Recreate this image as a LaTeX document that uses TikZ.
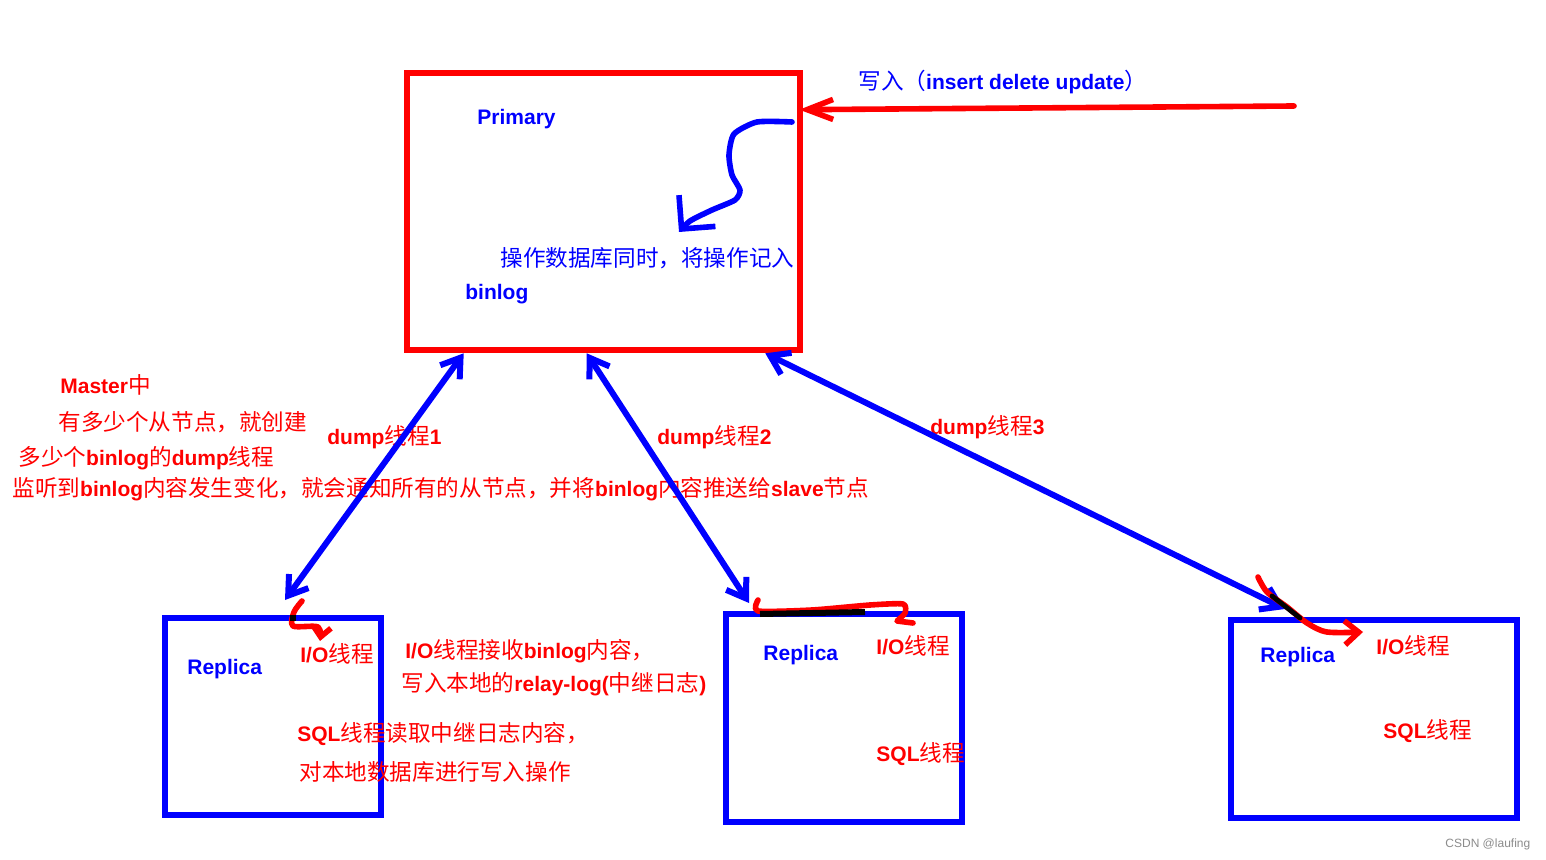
\documentclass[tikz,border=0pt]{standalone}
\usepackage{fontspec}
\setmainfont{Liberation Sans}
\newfontfamily\cjk{Noto Sans CJK SC}
\usetikzlibrary{arrows.meta}
\usetikzlibrary{calc}

\newcommand{\zh}[1]{{\cjk\mdseries\fontsize{11.3}{13}\selectfont #1}}

\tikzset{
  lbl/.style={inner sep=0pt, anchor=west, yshift=-0.8pt, font=\bfseries\fontsize{10.5}{12}\selectfont},
  redlbl/.style={lbl, text=red},
  bluelbl/.style={lbl, text=blue},
  masterbox/.style={draw=red, line width=3.3pt, minimum width=196.5pt, minimum height=138.5pt},
  slavebox/.style={draw=blue, line width=3pt},
  dumpline/.style={blue, line width=3pt, line cap=round,
    {Straight Barb[length=9pt,width=12pt]}-{Straight Barb[length=9pt,width=12pt]}},
  handline/.style={line width=2.8pt, line cap=round, line join=round},
}

\begin{document}
\begin{tikzpicture}[x=0.5pt, y=-0.5pt]
    \useasboundingbox[fill=white] (0,0) rectangle (1546,860);

    % master and the three replicas
    \node (primary) [masterbox] at (603.5,211.5) {};
    \node (r1) [slavebox, minimum width=108pt, minimum height=98.5pt] at (273,716.5) {};
    \node (r2) [slavebox, minimum width=118pt, minimum height=104pt] at (844,718) {};
    \node (r3) [slavebox, minimum width=143pt, minimum height=99pt] at (1374,719) {};

    % texts in the master
    \node (primlbl) [bluelbl] at (477,117) {Primary};
    \node (oplbl) [bluelbl] at (500,257) {\zh{操作数据库同时，将操作记入}};
    \node (binlbl) [bluelbl] at (465,293) {binlog};
    \node (writelbl) [bluelbl] at (858,80) {\zh{写入（}insert delete update\zh{）}};

    % notes on the left
    \node (note1) [redlbl] at (60,383) {Master\zh{中}};
    \node (note2) [redlbl] at (58,421) {\zh{有多少个从节点，就创建}};
    \node (note3) [redlbl] at (18,457) {\zh{多少个}binlog\zh{的}dump\zh{线程}};
    \node (note4) [redlbl] at (12,488) {\zh{监听到}binlog\zh{内容发生变化，就会通知所有的从节点，并将}binlog\zh{内容推送给}slave\zh{节点}};

    \node (dump1) [redlbl] at (327,436) {dump\zh{线程}1};
    \node (dump2) [redlbl] at (657,436) {dump\zh{线程}2};
    \node (dump3) [redlbl] at (930,426) {dump\zh{线程}3};

    % texts in the replicas
    \node (rep1) [bluelbl] at (187,667) {Replica};
    \node (rep2) [bluelbl] at (763,653) {Replica};
    \node (rep3) [bluelbl] at (1260,655) {Replica};
    \node (io1) [redlbl] at (300,652) {I/O\zh{线程}};
    \node (io2) [redlbl] at (876,644) {I/O\zh{线程}};
    \node (io3) [redlbl] at (1376,644) {I/O\zh{线程}};
    \node (sql2) [redlbl] at (876,752) {SQL\zh{线程}};
    \node (sql3) [redlbl] at (1383,729) {SQL\zh{线程}};

    \node (iotxt1) [redlbl] at (405,650) {I/O\zh{线程接收}binlog\zh{内容，}};
    \node (iotxt2) [redlbl] at (401,683) {\zh{写入本地的}relay-log(\zh{中继日志})};
    \node (sqltxt1) [redlbl] at (297,732) {SQL\zh{线程读取中继日志内容，}};
    \node (sqltxt2) [redlbl] at (299,770) {\zh{对本地数据库进行写入操作}};

    \node (mark) [lbl, font=\fontsize{6}{7}\selectfont, text=black!45] at (1445,843) {CSDN @laufing};

    % client writes into the master
    \coordinate (client) at (1294,106);
    \draw[red, handline, -{Straight Barb[length=13pt,width=10pt]}]
        (client) -- ([xshift=-2pt,yshift=-20pt]primary.north east);

    % the write goes into the binlog
    \draw[blue, handline, -{Straight Barb[length=12pt,width=24pt]}]
        plot[smooth, tension=0.4] coordinates {(792,122) (757,122) (734,134) (729,155) (732,175) (740,190) (735,200) (712,210) (690,221) (679,232)};

    % dump threads
    \draw[dumpline] ([xshift=30pt]primary.south west) -- ([xshift=61.5pt,yshift=7.5pt]r1.north west);
    \draw[dumpline] ([xshift=91.5pt]primary.south west) -- ([xshift=13pt,yshift=4pt]r2.north west);
    \draw[dumpline] ([xshift=-19pt]primary.south east) -- ([xshift=28.5pt,yshift=4pt]r3.north west);

    % I/O threads take the binlog
    \draw[red, handline, -{Straight Barb[length=5pt,width=9pt]}]
        plot[smooth, tension=0.5] coordinates {(302,601) (294,612) (293,626) (318,627) (320,641)};
    \draw[black, line width=3pt] (293,615) -- (293,621);

    \draw[red, handline]
        plot[smooth, tension=0.4] coordinates {(758,600) (758,611) (812,610) (870,605) (903,604) (905,613) (897,621)} -- (913,623);
    \draw[black, line width=3pt] (760,614) -- (865,612);

    \draw[red, handline, -{Straight Barb[length=7pt,width=12pt]}]
        plot[smooth, tension=0.5] coordinates {(1258,577) (1267,592) (1287,607) (1307,623) (1327,632) (1363,632)};
    \draw[black, line width=2.4pt, line cap=round] (1272,596) -- (1300,618);
\end{tikzpicture}
\end{document}
